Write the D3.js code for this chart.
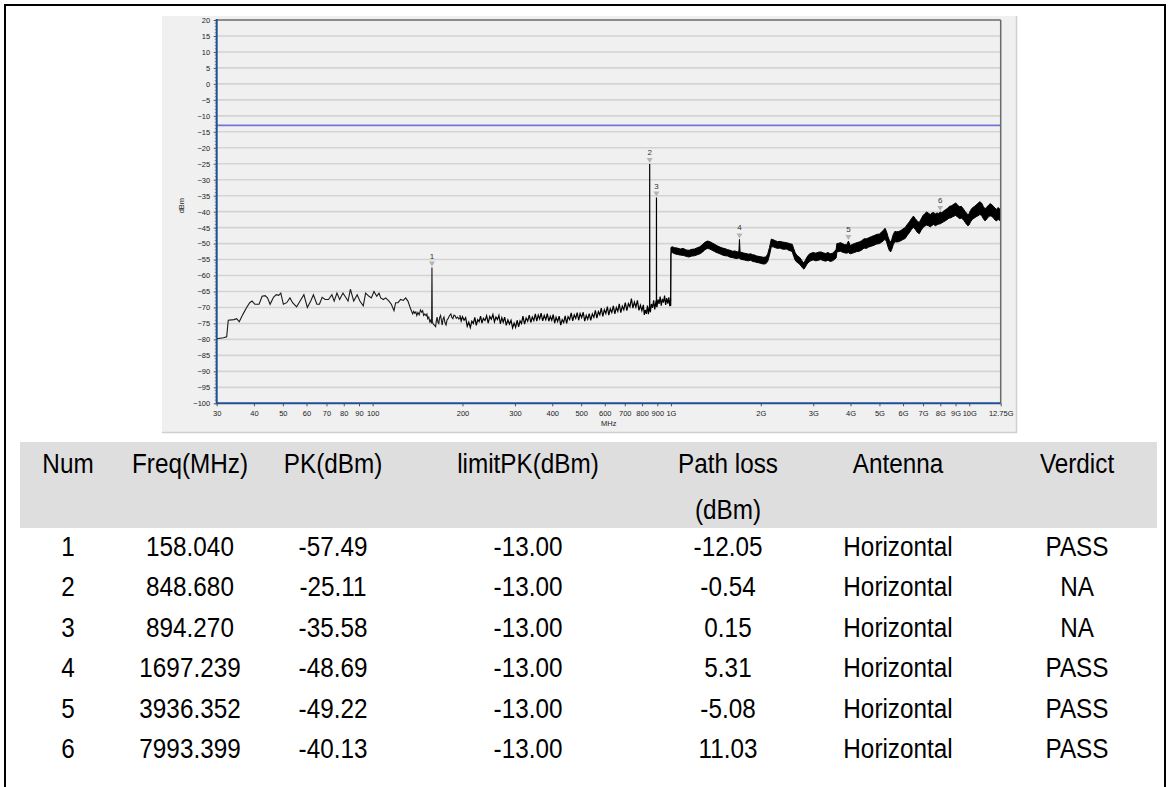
<!DOCTYPE html>
<html><head><meta charset="utf-8">
<script src="https://cdn.jsdelivr.net/npm/d3@7"></script>
<style>
body{margin:0;background:#fff;}
svg{display:block;font-family:"Liberation Sans",Arial,Helvetica,sans-serif;}
</style>
</head><body>
<svg id="c" width="1171" height="787"></svg>
<script>
// ---------------- data ----------------
const yTickValues = [20,15,10,5,0,-5,-10,-15,-20,-25,-30,-35,-40,-45,-50,-55,-60,-65,-70,-75,-80,-85,-90,-95,-100];
const xTickValues = [30,40,50,60,70,80,90,100,200,300,400,500,600,700,800,900,1000,2000,3000,4000,5000,6000,7000,8000,9000,10000,12750];
const xTickLabels = ["30","40","50","60","70","80","90","100","200","300","400","500","600","700","800","900","1G","2G","3G","4G","5G","6G","7G","8G","9G","10G","12.75G"];
const limitLevel = -13;

// low-frequency trace (MHz, dBm) – single line
const lowTrace = [
[30,-79.8],[31.6,-79.5],[32.4,-79.2],[32.8,-74],[34.3,-73.8],[35,-73.5],[35.7,-74.5],[36.8,-72],[37.8,-70],
[38.7,-68.5],[39.4,-68],[40.3,-69],[41.6,-69],[42.6,-66.5],[43.6,-66.3],[44.4,-67],[45.3,-69],[46.5,-66.8],
[47.5,-66],[48.4,-66.2],[49.2,-65.5],[50.2,-69],[51.5,-68.5],[52.8,-67],[53.9,-68.5],[55.6,-69.8],[57.1,-68],
[58.8,-66],[60.4,-70],[62,-68],[63.3,-66],[65,-69],[66.3,-69],[67.7,-66.8],[69.3,-67.5],[71.1,-67.5],[73,-66],
[74.3,-68],[75.9,-65.5],[77.5,-67.5],[79.5,-65.5],[81.2,-66.8],[82.7,-68],[84.2,-64.3],[86.4,-68],[88.7,-66],
[90.6,-68],[93,-69.5],[94.7,-65.5],[97.2,-66.5],[99,-67],[101,-65],[103.2,-66.5],[105,-65.5],[106.4,-67],
[108.6,-67.5],[110.6,-67],[113.4,-68],[115.5,-69],[117.9,-71],[119.4,-68.5],[121.6,-68.5],[124.1,-67.5],
[126.7,-67.8],[129,-67],[131.3,-68],[134.1,-70.5],[136.2,-72],[137.3,-71.2],[138.4,-71.8],[139.5,-71.4],[140.6,-72.5],
[141.8,-71.6],[143.2,-72.3],[144.6,-70.8],[146,-71.5],[147.1,-71],[148.2,-72.5],[149.6,-72],[151,-72.6],[152,-72.1],
[153,-73.5],[154.2,-73],[155.5,-74.5],[156.5,-74],[157.6,-75],[158.04,-57.49],[158.5,-74.5],[159.7,-75.2],
[161,-75.5],[162.6,-76],[163.5,-74.2],[164.4,-73],[165.5,-74.6],[166.6,-75],[167.7,-73.2],[168.9,-72.5],
[170,-74],[171.1,-75.5],[172.2,-73.6],[173.4,-73],[174.8,-74.8],[176.2,-75.5],[177.6,-73.9],[179,-73.5],
[180.9,-72.6],[182.9,-72],[184.3,-73.1],[185.8,-73.5],[187.2,-72.4],[188.7,-72.5],[190.7,-73.4],[192.7,-73],
[194.5,-73.6],[196.2,-73.2]
];

// 196 MHz – 1 GHz noisy trace (MHz, dBm)
const midTrace = [
[196,-72.4],[198,-74.2],[200,-72.9],[202.5,-74.0],[205,-73.2],[207.5,-75.9],[210,-74.6],[212.5,-76.3],[215,-74.3],
[217.5,-75.0],[220,-73.1],[222.5,-75.6],[225,-73.8],[227.5,-74.4],[230,-72.7],[232.5,-74.9],[235,-73.4],[238,-74.1],
[241,-72.6],[244,-74.9],[247,-72.8],[250,-73.7],[253,-72.2],[256,-74.5],[259,-73.0],[262,-73.8],[265,-72.5],
[268,-75.1],[271,-73.2],[274,-74.6],[277,-73.0],[280.5,-75.6],[284,-73.9],[287.5,-75.2],[291,-74.0],[294.5,-76.4],
[298,-74.9],[301.5,-76.2],[305,-74.0],[308.5,-76.1],[312,-74.2],[315.5,-75.0],[319,-72.7],[323,-75.2],[327,-73.3],
[331,-74.3],[335,-72.4],[339,-74.7],[343,-73.0],[347,-74.1],[351,-72.0],[355,-74.3],[359,-72.4],[363,-73.6],
[367,-71.8],[371.5,-74.2],[376,-72.5],[380.5,-73.8],[385,-71.9],[389.5,-74.3],[394,-72.8],[398.5,-74.0],[403,-72.2],
[407.5,-74.9],[412,-73.1],[417,-74.4],[422,-72.7],[427,-75.5],[432,-73.8],[437,-74.7],[442,-72.6],[447,-75.0],
[452,-72.9],[457.5,-73.8],[463,-71.7],[468.5,-74.2],[474,-72.3],[479.5,-73.4],[485,-71.6],[490.5,-74.0],[496,-71.9],
[502,-73.2],[508,-71.5],[514,-74.3],[520,-72.5],[526,-73.7],[532,-71.9],[538.5,-74.0],[545,-72.0],[551.5,-73.1],
[558,-70.9],[564.5,-73.3],[571,-71.3],[577.5,-72.3],[584,-70.2],[591,-72.8],[598,-70.7],[605,-71.9],[612,-69.7],
[619,-72.4],[626,-70.4],[633.5,-71.6],[641,-69.5],[648.5,-72.0],[656,-70.0],[663.5,-71.2],[671,-68.9],[679,-71.6],
[687,-69.6],[695,-70.7],[703,-68.5],[711.5,-71.0],[720,-68.8],[728.5,-69.8],[737,-67.2],[745.5,-70.2],[754,-68.3],
[763,-69.9],[772,-67.8],[781,-70.9],[790,-69.3],[799,-71.0],[808,-69.2],[814,-72.3],[820,-70.8],[827,-72.0],
[834,-69.4],[840,-72.1],[846,-69.8],[848.2,-70.8],[848.68,-25.11],[849.2,-70.6],[853,-71.5],[860,-68.9],
[867.5,-70.1],[875,-67.8],[882.5,-70.6],[890,-68.3],[893.8,-68.6],[894.27,-35.58],[894.8,-69.4],[897.5,-69.9],
[905,-67.5],[912.5,-68.9],[920,-66.6],[928,-69.4],[936,-67.3],[944,-68.5],[952,-66.3],[960,-69.2],[968,-67.1],
[976,-68.8],[984,-66.8],[991,-69.6],[998,-67.3]
];

// 1 GHz – 12.75 GHz swept band (MHz, min dBm, max dBm)
const bandTrace = [
[998,-69.5,-67.4],[1000,-53.0,-51.2],
[1010,-52.8,-51.0],[1030,-53.2,-51.3],[1050,-53.4,-51.4],[1075,-53.6,-51.7],[1100,-53.7,-51.5],[1125,-54.0,-52.0],
[1150,-54.2,-52.1],[1175,-53.9,-51.8],[1200,-53.8,-51.7],[1225,-53.5,-51.3],[1250,-53.2,-51.0],[1275,-52.7,-50.3],
[1300,-51.9,-49.6],[1325,-51.5,-49.2],[1350,-51.7,-49.4],[1375,-52.1,-49.8],[1400,-52.5,-50.2],[1430,-52.9,-50.7],
[1460,-53.2,-51.1],[1490,-53.6,-51.4],[1520,-53.8,-51.6],[1550,-53.9,-51.9],[1580,-54.3,-52.1],[1610,-54.4,-52.4],
[1640,-54.6,-52.3],[1670,-54.7,-52.6],[1690,-54.5,-52.4],[1697.239,-54.5,-48.69],[1705,-54.8,-52.6],
[1730,-55.0,-52.8],[1760,-55.1,-53.0],[1790,-55.3,-53.1],[1820,-55.4,-53.3],[1850,-55.2,-53.2],[1880,-55.6,-53.5],
[1910,-55.7,-53.6],[1940,-55.9,-53.9],[1970,-56.0,-54.0],[2000,-56.2,-54.1],[2040,-56.4,-54.3],[2080,-56.3,-54.2],
[2110,-55.6,-53.3],[2140,-53.6,-51.2],[2170,-51.0,-48.6],[2200,-51.0,-48.8],[2240,-51.3,-49.1],[2280,-51.5,-49.4],
[2320,-51.4,-49.3],[2360,-51.7,-49.5],[2400,-51.8,-49.6],[2440,-51.7,-49.7],[2480,-52.1,-49.9],[2520,-52.3,-50.1],
[2550,-52.5,-50.2],[2580,-54.0,-51.6],[2610,-55.2,-52.9],[2640,-55.8,-53.6],[2670,-56.1,-54.0],[2700,-56.5,-54.3],
[2730,-57.0,-54.9],[2760,-57.6,-55.6],[2790,-58.0,-56.0],[2820,-57.4,-55.3],[2860,-56.4,-54.2],[2900,-55.8,-53.4],
[2950,-55.3,-53.0],[3000,-55.1,-52.8],[3060,-55.4,-53.0],[3120,-55.2,-52.7],[3180,-55.0,-52.6],[3240,-55.3,-52.9],
[3300,-55.5,-53.1],[3360,-55.2,-52.8],[3420,-55.6,-53.2],[3480,-55.4,-53.0],[3540,-54.9,-52.4],[3580,-54.5,-51.8],
[3600,-52.6,-50.0],[3650,-52.5,-49.9],[3700,-52.4,-49.7],[3760,-52.7,-50.0],[3820,-52.9,-50.3],[3880,-53.0,-50.4],
[3936.352,-52.8,-49.22],[3990,-53.2,-50.6],[4050,-53.0,-50.3],[4120,-52.8,-50.0],[4200,-52.5,-49.7],[4280,-52.4,-49.5],
[4360,-52.0,-49.1],[4440,-51.4,-48.5],[4520,-51.5,-48.5],[4600,-51.1,-48.2],[4700,-50.8,-47.8],[4800,-50.5,-47.5],
[4900,-50.1,-47.1],[5000,-50.0,-47.0],[5080,-49.6,-46.4],[5150,-49.2,-45.9],[5220,-48.6,-45.2],[5280,-49.4,-46.2],
[5340,-51.0,-47.8],[5400,-52.2,-49.0],[5450,-52.6,-49.6],[5500,-51.8,-48.7],[5560,-50.4,-47.2],[5630,-49.4,-46.2],
[5700,-49.5,-46.3],[5800,-49.4,-46.2],[5900,-49.1,-45.9],[6000,-48.7,-45.4],[6100,-48.4,-45.0],[6200,-47.4,-44.0],
[6300,-46.6,-43.2],[6400,-45.6,-42.2],[6500,-44.9,-41.4],[6600,-45.6,-42.2],[6700,-46.5,-43.0],[6800,-46.9,-43.4],
[6900,-45.8,-42.3],[7000,-45.0,-41.2],[7100,-44.5,-40.6],[7200,-44.2,-40.1],[7300,-44.4,-40.5],[7400,-44.8,-40.9],
[7500,-44.3,-40.4],[7600,-44.0,-40.3],[7700,-44.4,-40.7],[7800,-44.1,-40.4],[7900,-43.9,-40.6],[7993.399,-43.8,-40.13],
[8100,-43.5,-40.4],[8200,-43.2,-39.8],[8300,-42.9,-39.5],[8400,-42.6,-39.2],[8500,-42.2,-38.7],[8600,-42.0,-38.3],
[8700,-41.9,-38.2],[8800,-41.6,-37.9],[8900,-41.4,-37.6],[9000,-41.2,-37.3],[9100,-41.5,-37.7],[9200,-41.9,-38.2],
[9300,-42.2,-38.5],[9400,-42.0,-38.3],[9500,-42.3,-38.8],[9600,-42.8,-39.4],[9700,-43.4,-40.0],[9800,-44.0,-40.5],
[9900,-44.4,-41.0],[10000,-44.1,-40.6],[10100,-43.2,-39.6],[10250,-42.4,-38.8],[10400,-42.0,-38.4],[10550,-41.6,-37.9],
[10700,-41.3,-37.4],[10850,-40.9,-36.9],[11000,-41.2,-37.3],[11150,-42.2,-38.4],[11300,-42.9,-39.1],[11450,-42.3,-38.6],
[11600,-41.6,-38.0],[11750,-41.3,-37.5],[11900,-41.5,-37.8],[12050,-41.9,-38.3],[12200,-42.6,-38.9],[12350,-42.9,-39.3],
[12500,-42.4,-38.7],[12650,-42.8,-39.2],[12750,-43.0,-39.4]
];

// markers
const markerNums = [1,2,3,4,5,6];
const markerFreqs = [158.040,848.680,894.270,1697.239,3936.352,7993.399];
const markerLevels = [-57.49,-25.11,-35.58,-48.69,-49.22,-40.13];

// table
const headerLines = [["Num"],["Freq(MHz)"],["PK(dBm)"],["limitPK(dBm)"],["Path loss","(dBm)"],["Antenna"],["Verdict"]];
const numCol = ["1","2","3","4","5","6"];
const freqCol = ["158.040","848.680","894.270","1697.239","3936.352","7993.399"];
const pkCol = ["-57.49","-25.11","-35.58","-48.69","-49.22","-40.13"];
const limitCol = ["-13.00","-13.00","-13.00","-13.00","-13.00","-13.00"];
const pathLossCol = ["-12.05","-0.54","0.15","5.31","-5.08","11.03"];
const antennaCol = ["Horizontal","Horizontal","Horizontal","Horizontal","Horizontal","Horizontal"];
const verdictCol = ["PASS","NA","NA","PASS","PASS","PASS"];

// ---------------- drawing ----------------
const svg = d3.select("#c");
const W = 1171, H = 787;
const plot = {l:216.7, r:1000.7, t:20, b:403.3};

// outer frame
svg.append("rect").attr("x",5).attr("y",5).attr("width",1160).attr("height",H+20)
  .attr("fill","#fff").attr("stroke","#000").attr("stroke-width",2);

// chart panel
svg.append("rect").attr("x",162).attr("y",16).attr("width",855).attr("height",416)
  .attr("fill","#f0f0f0");
svg.append("path").attr("d","M1016.5,16V432.5H162").attr("fill","none").attr("stroke","#cfcfcf").attr("stroke-width",1.5);

const x = d3.scaleLog().domain([30,12750]).range([plot.l, plot.r]);
const y = d3.scaleLinear().domain([-100,20]).range([plot.b, plot.t]);

// gridlines
svg.append("g").selectAll("line").data(yTickValues.filter(v=>v>-100 && v<20)).join("line")
  .attr("x1",plot.l).attr("x2",plot.r).attr("y1",d=>y(d)).attr("y2",d=>y(d))
  .attr("stroke","#d3d3d3").attr("stroke-width",1.6);

// limit line
svg.append("line").attr("x1",plot.l).attr("x2",plot.r).attr("y1",y(limitLevel)).attr("y2",y(limitLevel))
  .attr("stroke","#7474d8").attr("stroke-width",1.8);

svg.append("clipPath").attr("id","pc").append("rect")
  .attr("x",plot.l).attr("y",plot.t).attr("width",plot.r-plot.l).attr("height",plot.b-plot.t);
const g = svg.append("g").attr("clip-path","url(#pc)");

// trace
const line = d3.line().x(d=>x(d[0])).y(d=>y(d[1]));
const area = d3.area().x(d=>x(d[0])).y0(d=>y(d[1])).y1(d=>y(d[2]));
g.append("path").datum(lowTrace).attr("d",line).attr("fill","none").attr("stroke","#1a1a1a").attr("stroke-width",1.1);
g.append("path").datum(midTrace).attr("d",line).attr("fill","none").attr("stroke","#000").attr("stroke-width",1.2);
g.append("path").datum(bandTrace).attr("d",area).attr("fill","#000").attr("stroke","#000")
  .attr("stroke-width",1);

// markers
const mk = svg.append("g");
markerNums.forEach((n,i)=>{
  const mx = x(markerFreqs[i]), my = y(markerLevels[i]);
  mk.append("path").attr("d",`M${mx-3},${my-6}L${mx+3},${my-6}L${mx},${my-1}Z`).attr("fill","#b4b4b4");
  mk.append("text").attr("x",mx).attr("y",my-9).attr("text-anchor","middle")
    .attr("font-size",8).attr("fill","#333").text(n);
});

// axes
const yAxisG = svg.append("g").attr("transform",`translate(${plot.l},0)`);
yAxisG.call(d3.axisLeft(y).tickValues(yTickValues).tickSize(3).tickFormat(d3.format("d")));
yAxisG.selectAll("text").attr("font-size",7.5).attr("fill","#222").attr("font-family","Liberation Sans, Arial, sans-serif").attr("dx",-0.5);
yAxisG.selectAll(".tick line").attr("stroke","#555");
yAxisG.select(".domain").remove();
const minorY = y.ticks(120).filter(v=>v%5!==0);
svg.append("g").selectAll("line").data(minorY).join("line")
  .attr("x1",plot.l-2).attr("x2",plot.l).attr("y1",d=>y(d)).attr("y2",d=>y(d))
  .attr("stroke","#777").attr("stroke-width",0.8);

const xAxisG = svg.append("g").attr("transform",`translate(0,${plot.b})`);
xAxisG.call(d3.axisBottom(x).tickValues(xTickValues).tickSize(3).tickFormat((d,i)=>xTickLabels[i]));
xAxisG.selectAll("text").attr("font-size",7.5).attr("fill","#222").attr("font-family","Liberation Sans, Arial, sans-serif").attr("dy","0.9em");
xAxisG.selectAll(".tick line").attr("stroke","#555");
xAxisG.select(".domain").remove();

// plot frame
svg.append("line").attr("x1",plot.l).attr("x2",plot.r).attr("y1",plot.t).attr("y2",plot.t).attr("stroke","#6a6a6a").attr("stroke-width",1.5);
svg.append("line").attr("x1",plot.r).attr("x2",plot.r).attr("y1",plot.t).attr("y2",plot.b).attr("stroke","#6a6a6a").attr("stroke-width",1.5);
svg.append("line").attr("x1",plot.l).attr("x2",plot.l).attr("y1",plot.t-1).attr("y2",plot.b+1).attr("stroke","#1f4f94").attr("stroke-width",2);
svg.append("line").attr("x1",plot.l).attr("x2",plot.r).attr("y1",plot.b).attr("y2",plot.b).attr("stroke","#1f4f94").attr("stroke-width",2);

// axis titles
svg.append("text").attr("transform",`translate(181,${(plot.t+plot.b)/2-6}) rotate(-90)`).attr("text-anchor","middle")
  .attr("font-size",7.5).attr("fill","#222").attr("dy","0.35em").text("dBm");
svg.append("text").attr("x",(plot.l+plot.r)/2).attr("y",426).attr("text-anchor","middle")
  .attr("font-size",7.5).attr("fill","#222").text("MHz");

// ---------------- table ----------------
const colX = [68,190,333,528,728,898,1077];
const tFont = 27, tScaleX = 0.9;
svg.append("rect").attr("x",20).attr("y",442).attr("width",1137).attr("height",86).attr("fill","#dedede");
function cell(cx, by, t){
  svg.append("text").attr("transform",`translate(${cx},${by}) scale(${tScaleX},1)`)
    .attr("text-anchor","middle").attr("font-size",tFont).attr("fill","#000").text(t);
}
headerLines.forEach((lines,ci)=>{
  lines.forEach((t,li)=> cell(colX[ci], 473+li*46, t));
});
const cols = [numCol,freqCol,pkCol,limitCol,pathLossCol,antennaCol,verdictCol];
const rowBase = [556,596,637,677,718,758];
cols.forEach((col,ci)=>{
  col.forEach((t,ri)=> cell(colX[ci], rowBase[ri], t));
});
</script>
</body></html>
